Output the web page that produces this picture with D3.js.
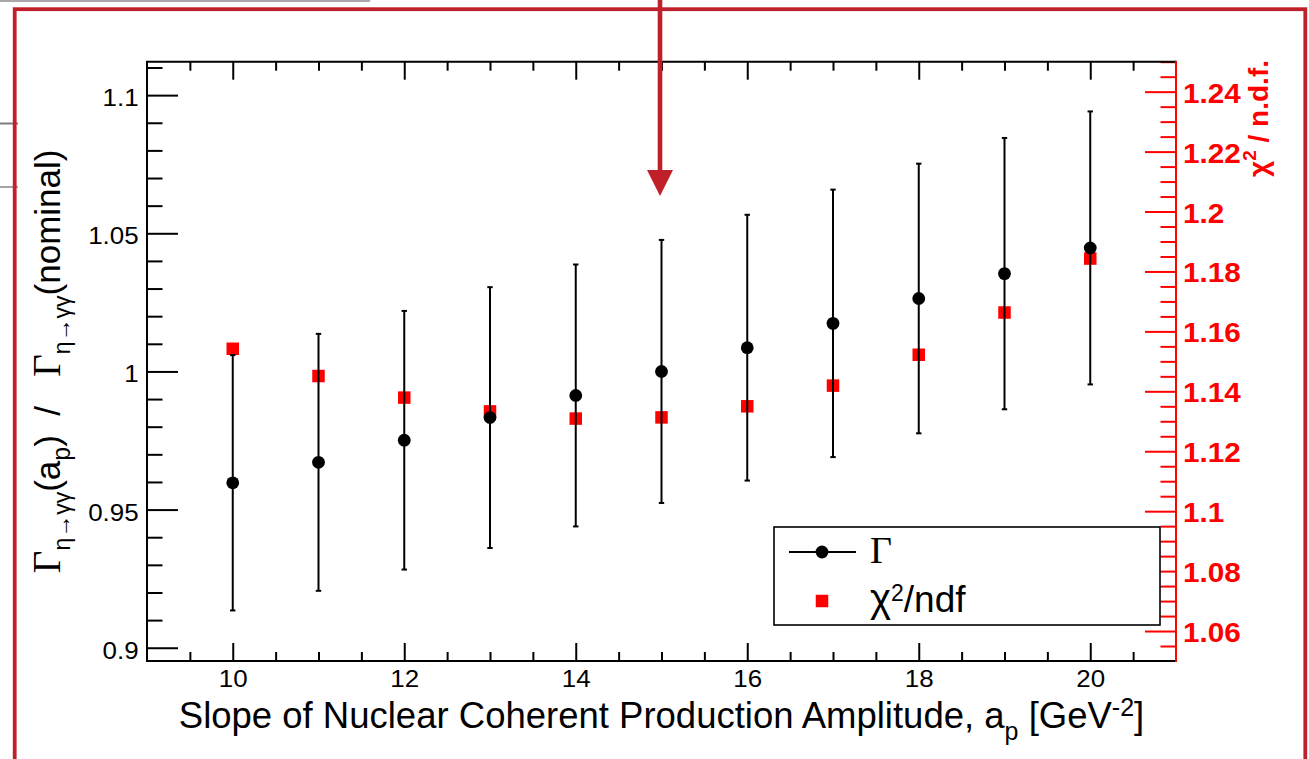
<!DOCTYPE html>
<html>
<head>
<meta charset="utf-8">
<script src="https://cdn.jsdelivr.net/npm/d3@7"></script>
<style>
  html, body { margin: 0; padding: 0; background: #ffffff; }
  svg { display: block; }
  text { white-space: pre; }
</style>
</head>
<body>
<svg id="chart" width="1309" height="759"></svg>
<script>
// Slope of the nuclear coherent production amplitude a_p [GeV^-2]
const apSlope = [10, 11, 12, 13, 14, 15, 16, 17, 18, 19, 20];
// Gamma(eta -> gamma gamma) at a_p, relative to the nominal fit
const gammaRatio = [0.9597, 0.9671, 0.9751, 0.9833, 0.9913, 1.0000, 1.0086, 1.0174, 1.0264, 1.0354, 1.0447];
const gammaErr   = [0.0462, 0.0465, 0.0468, 0.0472, 0.0474, 0.0476, 0.0481, 0.0484, 0.0488, 0.0491, 0.0494];
// Fit quality for each a_p
const chi2Ndf    = [1.1542, 1.1451, 1.1379, 1.1333, 1.1309, 1.1313, 1.1350, 1.1419, 1.1522, 1.1663, 1.1843];

// Axis ticks and their labels
const xMajorTicks = [10, 12, 14, 16, 18, 20];
const xTickLabels = ["10", "12", "14", "16", "18", "20"];
const leftMajorTicks = [0.9, 0.95, 1.0, 1.05, 1.1];
const leftTickLabels = ["0.9", "0.95", "1", "1.05", "1.1"];
const rightMajorTicks = [1.06, 1.08, 1.10, 1.12, 1.14, 1.16, 1.18, 1.20, 1.22, 1.24];
const rightTickLabels = ["1.06", "1.08", "1.1", "1.12", "1.14", "1.16", "1.18", "1.2", "1.22", "1.24"];

const svg = d3.select("#chart");
const SANS = "'Liberation Sans', Arial, Helvetica, sans-serif";
const SERIF = "'Liberation Serif', 'Times New Roman', serif";
const RED = "#ff0000";
const SLIDE_RED = "#c0202a";

const frame = { left: 147, right: 1176, top: 61.7, bottom: 661 };

const x = d3.scaleLinear().domain([9, 21]).range([frame.left, frame.right]);
const yL = d3.scaleLinear().domain([0.8952, 1.1121]).range([frame.bottom, frame.top]);
const yR = d3.scaleLinear().domain([1.05, 1.25]).range([frame.bottom, frame.top]);

// minor tick positions
const isMajor = (arr) => (v) => arr.some(m => Math.abs(m - v) < 1e-9);
const xMinor = d3.range(9.5, 21, 0.5).filter(v => !isMajor(xMajorTicks)(v));
const leftMinor = d3.range(0.90, 1.1101, 0.01).map(v => +v.toFixed(3)).filter(v => !isMajor(leftMajorTicks)(v));
const rightMinor = d3.range(1.055, 1.2501, 0.005).map(v => +v.toFixed(4)).filter(v => !isMajor(rightMajorTicks)(v));

// ---- slide decoration behind the plot ----
const deco = svg.append("g");
deco.append("line").attr("x1", -2).attr("x2", 369).attr("y1", 0.8).attr("y2", 0.8)
  .attr("stroke", "#a9a9a9").attr("stroke-width", 2.6).attr("stroke-linecap", "round");
deco.append("line").attr("x1", 0).attr("x2", 18).attr("y1", 123.5).attr("y2", 123.5)
  .attr("stroke", "#7d7d7d").attr("stroke-width", 2);
deco.append("line").attr("x1", 0).attr("x2", 18).attr("y1", 187).attr("y2", 187)
  .attr("stroke", "#a3a3a3").attr("stroke-width", 2);
deco.append("rect").attr("x", 14.7).attr("y", 9.2).attr("width", 1290.6).attr("height", 800)
  .attr("fill", "none").attr("stroke", SLIDE_RED).attr("stroke-width", 3.8);

// ---- axes ----
function styleTicks(g, color) {
  g.select(".domain").remove();
  g.selectAll(".tick line").attr("stroke", color).attr("stroke-width", 2);
}
const LBL = 24, LBL_SX = 1.08;

// bottom
svg.append("g").attr("transform", `translate(0,${frame.bottom})`)
  .call(d3.axisBottom(x).tickValues(xMinor).tickSize(-9).tickFormat(""))
  .call(g => styleTicks(g, "#000"));
const xAx = svg.append("g").attr("transform", `translate(0,${frame.bottom})`)
  .call(d3.axisBottom(x).tickValues(xMajorTicks).tickSize(-18).tickFormat((d, i) => xTickLabels[i]))
  .call(g => styleTicks(g, "#000"));
xAx.selectAll(".tick text")
  .attr("font-family", SANS).attr("font-size", LBL).attr("fill", "#000")
  .attr("y", 26.5).attr("dy", 0).attr("transform", `scale(${LBL_SX},1)`);

// top
svg.append("g").attr("transform", `translate(0,${frame.top})`)
  .call(d3.axisTop(x).tickValues(xMinor).tickSize(-9).tickFormat(""))
  .call(g => styleTicks(g, "#000"));
svg.append("g").attr("transform", `translate(0,${frame.top})`)
  .call(d3.axisTop(x).tickValues(xMajorTicks).tickSize(-18).tickFormat(""))
  .call(g => styleTicks(g, "#000"));

// left
svg.append("g").attr("transform", `translate(${frame.left},0)`)
  .call(d3.axisLeft(yL).tickValues(leftMinor).tickSize(-15.5).tickFormat(""))
  .call(g => styleTicks(g, "#000"));
const yAx = svg.append("g").attr("transform", `translate(${frame.left},0)`)
  .call(d3.axisLeft(yL).tickValues(leftMajorTicks).tickSize(-31).tickFormat((d, i) => leftTickLabels[i]))
  .call(g => styleTicks(g, "#000"));
yAx.selectAll(".tick text")
  .attr("font-family", SANS).attr("font-size", LBL).attr("fill", "#000")
  .attr("x", -8.4 / LBL_SX).attr("y", 10.5).attr("dy", 0).attr("transform", `scale(${LBL_SX},1)`);

// right (chi2/ndf)
svg.append("g").attr("transform", `translate(${frame.right},0)`)
  .call(d3.axisRight(yR).tickValues(rightMinor).tickSize(-15.5).tickFormat(""))
  .call(g => styleTicks(g, RED));
const rAx = svg.append("g").attr("transform", `translate(${frame.right},0)`)
  .call(d3.axisRight(yR).tickValues(rightMajorTicks).tickSize(-31).tickFormat((d, i) => rightTickLabels[i]))
  .call(g => styleTicks(g, RED));
rAx.selectAll(".tick text")
  .attr("font-family", SANS).attr("font-size", 27).attr("font-weight", "bold").attr("fill", RED)
  .attr("x", 7 / 1.1).attr("y", 10.5).attr("dy", 0).attr("transform", "scale(1.1,1)");

// frame
const fr = svg.append("g").attr("stroke-width", 2).attr("fill", "none");
fr.append("path").attr("stroke", "#000")
  .attr("d", `M${frame.right},${frame.top}H${frame.left}V${frame.bottom}H${frame.right}`);
fr.append("line").attr("stroke", RED)
  .attr("x1", frame.right).attr("x2", frame.right).attr("y1", frame.top - 1).attr("y2", frame.bottom + 1);

// ---- data ----
const rows = apSlope.map((a, i) => ({ a, g: gammaRatio[i], e: gammaErr[i], c: chi2Ndf[i] }));
const SQ = 12.5, CAP = 2.7;

svg.append("g").selectAll("rect").data(rows).join("rect")
  .attr("x", d => x(d.a) - SQ / 2).attr("y", d => yR(d.c) - SQ / 2)
  .attr("width", SQ).attr("height", SQ).attr("fill", RED);

const bars = svg.append("g").attr("stroke", "#000").attr("stroke-width", 2);
bars.selectAll("line.bar").data(rows).join("line").attr("class", "bar")
  .attr("x1", d => x(d.a)).attr("x2", d => x(d.a))
  .attr("y1", d => yL(d.g - d.e)).attr("y2", d => yL(d.g + d.e));
bars.selectAll("line.capHi").data(rows).join("line").attr("class", "capHi")
  .attr("x1", d => x(d.a) - CAP).attr("x2", d => x(d.a) + CAP)
  .attr("y1", d => yL(d.g + d.e)).attr("y2", d => yL(d.g + d.e));
bars.selectAll("line.capLo").data(rows).join("line").attr("class", "capLo")
  .attr("x1", d => x(d.a) - CAP).attr("x2", d => x(d.a) + CAP)
  .attr("y1", d => yL(d.g - d.e)).attr("y2", d => yL(d.g - d.e));

svg.append("g").selectAll("circle").data(rows).join("circle")
  .attr("cx", d => x(d.a)).attr("cy", d => yL(d.g)).attr("r", 6.4).attr("fill", "#000");

// ---- axis titles ----
const xt = svg.append("text").attr("x", (frame.left + frame.right) / 2).attr("y", 728)
  .attr("text-anchor", "middle").attr("font-family", SANS).attr("font-size", 36.5).attr("fill", "#000");
xt.append("tspan").text("Slope of Nuclear Coherent Production Amplitude, a");
xt.append("tspan").attr("font-size", 25).attr("dy", 12).text("p");
xt.append("tspan").attr("dy", -12).text(" [GeV");
xt.append("tspan").attr("font-size", 25).attr("dy", -12).text("-2");
xt.append("tspan").attr("dy", 12).text("]");

const yt = svg.append("text")
  .attr("transform", `translate(60,${(frame.top + frame.bottom) / 2}) rotate(-90)`)
  .attr("text-anchor", "middle").attr("font-family", SANS).attr("font-size", 35).attr("fill", "#000");
yt.append("tspan").attr("font-family", SERIF).attr("font-size", 39).text("Γ");
yt.append("tspan").attr("font-size", 23).attr("dy", 10).text("η→γγ");
yt.append("tspan").attr("dy", -10).text("(a");
yt.append("tspan").attr("font-size", 25).attr("dy", 10).text("p");
yt.append("tspan").attr("dy", -10).text(")  /   ");
yt.append("tspan").attr("font-family", SERIF).attr("font-size", 39).text("Γ");
yt.append("tspan").attr("font-size", 23).attr("dy", 10).text("η→γγ");
yt.append("tspan").attr("dy", -10).text("(nominal)");

const rt = svg.append("text")
  .attr("transform", `translate(1268,60) rotate(-90)`)
  .attr("text-anchor", "end").attr("font-family", SANS).attr("font-size", 28)
  .attr("font-weight", "bold").attr("fill", RED);
rt.append("tspan").text("χ");
rt.append("tspan").attr("font-size", 19).attr("dy", -12).text("2");
rt.append("tspan").attr("dy", 12).text(" / n.d.f.");

// ---- legend ----
const lg = svg.append("g");
lg.append("rect").attr("x", 774).attr("y", 527).attr("width", 386).attr("height", 98)
  .attr("fill", "#fff").attr("stroke", "#000").attr("stroke-width", 1.6);
lg.append("line").attr("x1", 789).attr("x2", 856).attr("y1", 552).attr("y2", 552)
  .attr("stroke", "#000").attr("stroke-width", 2);
lg.append("circle").attr("cx", 822).attr("cy", 552).attr("r", 6.4).attr("fill", "#000");
lg.append("text").attr("x", 870).attr("y", 563).attr("font-family", SERIF).attr("font-size", 38)
  .attr("fill", "#000").text("Γ");
lg.append("rect").attr("x", 822 - SQ / 2).attr("y", 601 - SQ / 2).attr("width", SQ).attr("height", SQ)
  .attr("fill", RED);
const lt = lg.append("text").attr("x", 870).attr("y", 612).attr("font-family", SANS)
  .attr("font-size", 37).attr("fill", "#000");
lt.append("tspan").attr("font-size", 40).text("χ");
lt.append("tspan").attr("font-size", 23).attr("dy", -11).text("2");
lt.append("tspan").attr("dy", 11).text("/ndf");

// ---- annotation arrow ----
const arrow = svg.append("g").attr("fill", SLIDE_RED).attr("stroke", "none");
arrow.append("rect").attr("x", 660 - 2.3).attr("y", -2).attr("width", 4.6).attr("height", 175);
arrow.append("path").attr("d", "M647,170L673,170L660,196Z");
</script>
</body>
</html>
